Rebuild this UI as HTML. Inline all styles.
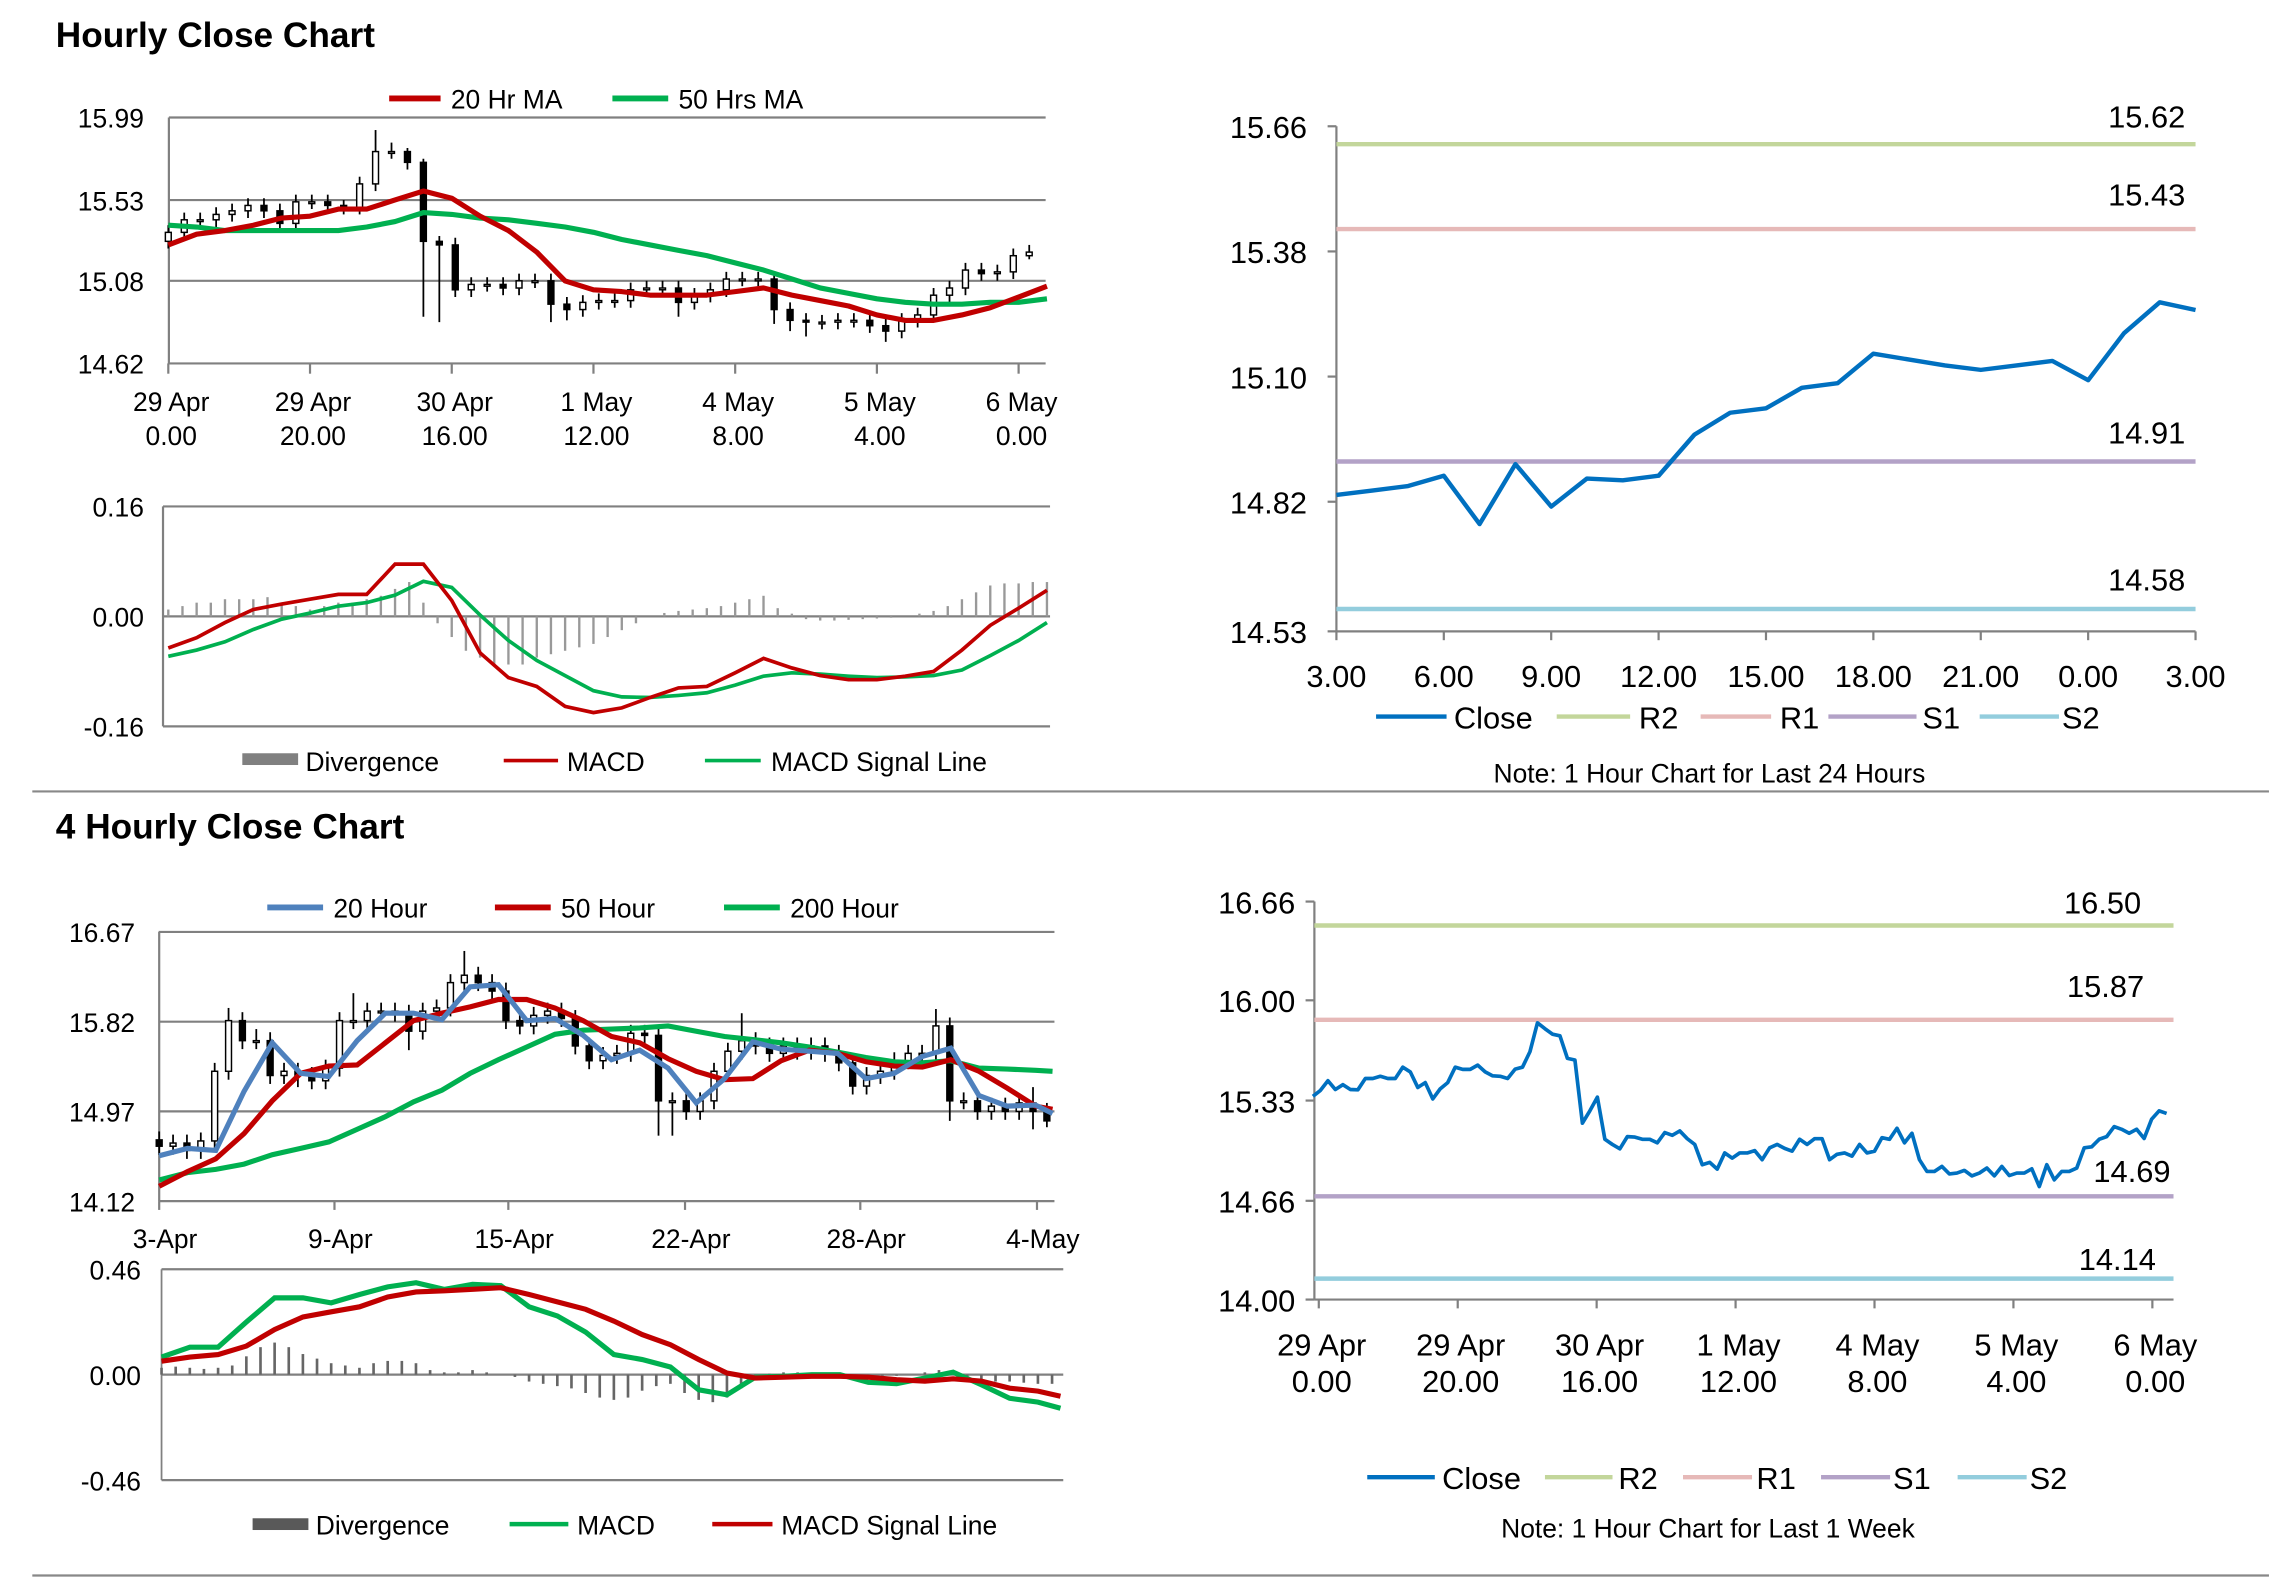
<!DOCTYPE html>
<html><head><meta charset="utf-8"><style>
html,body{margin:0;padding:0;background:#fff;}
svg{display:block;font-family:"Liberation Sans",Arial,sans-serif;}
</style></head><body>
<svg id="chart" xmlns="http://www.w3.org/2000/svg" width="2291" height="1577" viewBox="0 0 1560 1074" preserveAspectRatio="none">
<rect x="0" y="0" width="1560" height="1074" fill="#fff"/>
<text x="38" y="32" font-size="24" font-weight="bold">Hourly Close Chart</text>
<text x="38" y="571" font-size="24" font-weight="bold">4 Hourly Close Chart</text>
<line x1="22" y1="539" x2="1545" y2="539" stroke="#888" stroke-width="1.5"/>
<line x1="22" y1="1073" x2="1545" y2="1073" stroke="#888" stroke-width="1.5"/>

<g font-size="18">
<line x1="265" y1="67" x2="300" y2="67" stroke="#c00000" stroke-width="4"/><text x="307" y="74">20 Hr MA</text>
<line x1="417" y1="67" x2="455" y2="67" stroke="#00b050" stroke-width="4"/><text x="462" y="74">50 Hrs MA</text>
</g>
<g font-size="18">
<rect x="165" y="513" width="38" height="8" fill="#808080"/><text x="208" y="525">Divergence</text>
<line x1="343" y1="518" x2="380" y2="518" stroke="#c00000" stroke-width="2.5"/><text x="386" y="525">MACD</text>
<line x1="480" y1="518" x2="518" y2="518" stroke="#00b050" stroke-width="2.5"/><text x="525" y="525">MACD Signal Line</text>
</g>
<g font-size="21">
<line x1="937" y1="488" x2="985" y2="488" stroke="#0070c0" stroke-width="3"/><text x="990" y="496">Close</text>
<line x1="1060" y1="488" x2="1110" y2="488" stroke="#c3d69b" stroke-width="3"/><text x="1116" y="496">R2</text>
<line x1="1158" y1="488" x2="1206" y2="488" stroke="#e6b9b8" stroke-width="3"/><text x="1212" y="496">R1</text>
<line x1="1245" y1="488" x2="1305" y2="488" stroke="#b3a2c7" stroke-width="3"/><text x="1309" y="496">S1</text>
<line x1="1348" y1="488" x2="1402" y2="488" stroke="#93cddd" stroke-width="3"/><text x="1404" y="496">S2</text>
</g>
<text x="1164" y="533" font-size="18" text-anchor="middle">Note: 1 Hour Chart for Last 24 Hours</text>

<g font-size="18">
<line x1="182" y1="618" x2="220" y2="618" stroke="#4f81bd" stroke-width="4"/><text x="227" y="625">20 Hour</text>
<line x1="337" y1="618" x2="375" y2="618" stroke="#c00000" stroke-width="4"/><text x="382" y="625">50 Hour</text>
<line x1="493" y1="618" x2="531" y2="618" stroke="#00b050" stroke-width="4"/><text x="538" y="625">200 Hour</text>
</g>
<g font-size="18">
<rect x="172" y="1034" width="38" height="8" fill="#595959"/><text x="215" y="1045">Divergence</text>
<line x1="347" y1="1038" x2="387" y2="1038" stroke="#00b050" stroke-width="3"/><text x="393" y="1045">MACD</text>
<line x1="485" y1="1038" x2="526" y2="1038" stroke="#c00000" stroke-width="3"/><text x="532" y="1045">MACD Signal Line</text>
</g>
<g font-size="21">
<line x1="931" y1="1006" x2="977" y2="1006" stroke="#0070c0" stroke-width="3"/><text x="982" y="1014">Close</text>
<line x1="1052" y1="1006" x2="1098" y2="1006" stroke="#c3d69b" stroke-width="3"/><text x="1102" y="1014">R2</text>
<line x1="1146" y1="1006" x2="1193" y2="1006" stroke="#e6b9b8" stroke-width="3"/><text x="1196" y="1014">R1</text>
<line x1="1240" y1="1006" x2="1287" y2="1006" stroke="#b3a2c7" stroke-width="3"/><text x="1289" y="1014">S1</text>
<line x1="1333" y1="1006" x2="1380" y2="1006" stroke="#93cddd" stroke-width="3"/><text x="1382" y="1014">S2</text>
</g>
<text x="1163" y="1047" font-size="18" text-anchor="middle">Note: 1 Hour Chart for Last 1 Week</text>
</svg>
<script>
// ---------- Chart 1: hourly candles ----------
const c1Open=[15.30,15.35,15.42,15.42,15.45,15.47,15.50,15.47,15.40,15.52,15.52,15.50,15.49,15.62,15.80,15.80,15.74,15.30,15.28,15.03,15.06,15.06,15.04,15.08,15.08,14.95,14.92,14.96,14.97,14.97,15.03,15.04,15.04,14.96,15.00,15.03,15.09,15.09,15.09,14.92,14.86,14.85,14.85,14.86,14.86,14.83,14.80,14.86,14.89,15.00,15.04,15.14,15.12,15.13,15.22];
const c1Close=[15.35,15.42,15.42,15.45,15.47,15.50,15.47,15.40,15.52,15.52,15.50,15.49,15.62,15.80,15.80,15.74,15.30,15.28,15.03,15.06,15.06,15.04,15.08,15.08,14.95,14.92,14.96,14.97,14.97,15.03,15.04,15.04,14.96,15.00,15.03,15.09,15.09,15.09,14.92,14.86,14.85,14.85,14.86,14.86,14.83,14.80,14.86,14.89,15.00,15.04,15.14,15.12,15.13,15.22,15.24];
const c1High=[15.39,15.46,15.46,15.49,15.51,15.54,15.54,15.51,15.56,15.56,15.56,15.53,15.66,15.92,15.85,15.82,15.76,15.33,15.32,15.10,15.10,15.10,15.12,15.12,15.12,14.99,15.00,15.01,15.01,15.07,15.08,15.08,15.08,15.04,15.07,15.13,15.13,15.13,15.13,14.96,14.90,14.89,14.90,14.90,14.90,14.87,14.90,14.93,15.04,15.08,15.18,15.18,15.17,15.26,15.28];
const c1Low=[15.26,15.31,15.38,15.38,15.41,15.43,15.43,15.36,15.36,15.48,15.46,15.45,15.45,15.58,15.76,15.70,14.88,14.85,14.99,14.99,15.02,15.00,15.00,15.04,14.85,14.86,14.88,14.92,14.93,14.93,14.99,15.00,14.88,14.92,14.96,14.99,15.05,15.05,14.84,14.80,14.77,14.81,14.81,14.82,14.79,14.74,14.76,14.82,14.85,14.96,15.00,15.08,15.08,15.09,15.20];
const c1MAHours=[0,4,8,12,16,20,24,28,32,36,40,44,48,52,56,60,64,68,72,76,80,84,88,92,96,100,104,108,112,116,120,124];
const c1MA20=[15.28,15.34,15.36,15.39,15.43,15.44,15.48,15.48,15.53,15.58,15.54,15.44,15.36,15.24,15.08,15.03,15.02,15.00,15.00,15.00,15.02,15.04,15.00,14.97,14.94,14.89,14.86,14.86,14.89,14.93,14.99,15.05];
const c1MA50=[15.39,15.38,15.36,15.36,15.36,15.36,15.36,15.38,15.41,15.46,15.45,15.43,15.42,15.40,15.38,15.35,15.31,15.28,15.25,15.22,15.18,15.14,15.09,15.04,15.01,14.98,14.96,14.95,14.95,14.96,14.96,14.98];
const c1YTicks=[15.99,15.53,15.08,14.62];
const c1XTickHours=[0,20,40,60,80,100,120];
const c1XTop=['29 Apr','29 Apr','30 Apr','1 May','4 May','5 May','6 May'];
const c1XBot=['0.00','20.00','16.00','12.00','8.00','4.00','0.00'];
// ---------- Chart 2: hourly MACD ----------
const m1Hours=[0,4,8,12,16,20,24,28,32,36,40,44,48,52,56,60,64,68,72,76,80,84,88,92,96,100,104,108,112,116,120,124];
const m1Macd=[-0.046,-0.031,-0.009,0.010,0.018,0.025,0.032,0.032,0.076,0.076,0.023,-0.053,-0.089,-0.102,-0.131,-0.140,-0.133,-0.118,-0.104,-0.102,-0.082,-0.061,-0.075,-0.086,-0.092,-0.092,-0.087,-0.080,-0.049,-0.013,0.012,0.038];
const m1Signal=[-0.058,-0.049,-0.037,-0.019,-0.004,0.005,0.015,0.020,0.031,0.051,0.042,0.002,-0.035,-0.064,-0.086,-0.108,-0.117,-0.118,-0.115,-0.111,-0.100,-0.087,-0.082,-0.084,-0.087,-0.089,-0.088,-0.086,-0.078,-0.057,-0.035,-0.009];
const m1Div=[0.01,0.015,0.02,0.02,0.025,0.025,0.025,0.028,0.02,0.015,0.01,0.015,0.02,0.02,0.025,0.03,0.04,0.05,0.02,-0.01,-0.03,-0.05,-0.06,-0.07,-0.07,-0.07,-0.06,-0.055,-0.05,-0.045,-0.04,-0.03,-0.02,-0.01,0.0,0.005,0.008,0.01,0.012,0.015,0.02,0.025,0.03,0.012,0.004,-0.004,-0.006,-0.006,-0.005,-0.004,-0.003,-0.002,0.0,0.004,0.008,0.015,0.025,0.035,0.045,0.048,0.048,0.05,0.05];
const m1YTicks=[0.16,0.00,-0.16];
const m1YLabels=['0.16','0.00','-0.16'];
// ---------- Chart 3: right hourly 24h ----------
const r1Labels=['3.00','6.00','9.00','12.00','15.00','18.00','21.00','0.00','3.00'];
const r1YTicks=[15.66,15.38,15.10,14.82,14.53];
const r1Close=[14.835,14.845,14.855,14.878,14.770,14.904,14.809,14.872,14.868,14.878,14.970,15.019,15.029,15.075,15.085,15.151,15.138,15.125,15.115,15.125,15.135,15.092,15.197,15.266,15.249];
const r1Levels=[15.62,15.43,14.91,14.58];
const r1LevelNames=['R2','R1','S1','S2'];
// ---------- Chart 4: 4-hourly candles ----------
const c3Open=[14.70,14.64,14.67,14.60,14.69,15.35,15.83,15.64,15.64,15.31,15.35,15.31,15.26,15.38,15.83,15.83,15.92,15.92,15.90,15.73,15.92,15.95,16.19,16.26,16.19,16.11,15.83,15.78,15.88,15.92,15.85,15.59,15.45,15.50,15.52,15.71,15.69,15.07,15.07,14.97,15.07,15.35,15.54,15.64,15.59,15.52,15.59,15.54,15.59,15.52,15.43,15.21,15.31,15.35,15.45,15.52,15.52,15.78,15.07,15.07,14.97,15.02,14.97,15.05,14.97];
const c3Close=[14.64,14.67,14.60,14.69,15.35,15.83,15.64,15.64,15.31,15.35,15.31,15.26,15.38,15.83,15.83,15.92,15.92,15.90,15.73,15.92,15.95,16.19,16.26,16.19,16.11,15.83,15.78,15.88,15.92,15.85,15.59,15.45,15.50,15.52,15.71,15.69,15.07,15.07,14.97,15.07,15.35,15.54,15.64,15.59,15.52,15.59,15.54,15.59,15.52,15.43,15.21,15.31,15.35,15.45,15.52,15.52,15.78,15.07,15.07,14.97,15.02,14.97,15.05,14.97,14.88];
const c3High=[14.78,14.75,14.75,14.77,15.43,15.95,15.91,15.75,15.72,15.43,15.43,15.39,15.46,15.91,16.09,16.00,16.00,16.00,15.98,16.00,16.03,16.27,16.49,16.34,16.27,16.19,15.91,15.96,16.00,16.00,15.93,15.67,15.58,15.60,15.79,15.79,15.77,15.15,15.15,15.15,15.43,15.62,15.90,15.72,15.67,15.67,15.67,15.67,15.67,15.60,15.51,15.39,15.43,15.53,15.60,15.60,15.94,15.86,15.15,15.15,15.10,15.10,15.13,15.20,15.05];
const c3Low=[14.56,14.56,14.52,14.52,14.61,15.27,15.56,15.56,15.23,15.23,15.20,15.18,15.18,15.30,15.75,15.75,15.84,15.82,15.55,15.65,15.84,15.87,16.11,16.11,16.03,15.75,15.70,15.70,15.80,15.77,15.51,15.37,15.37,15.42,15.44,15.61,14.74,14.74,14.89,14.89,14.99,15.27,15.46,15.51,15.44,15.44,15.46,15.46,15.44,15.35,15.13,15.13,15.23,15.27,15.37,15.44,15.44,14.88,14.99,14.89,14.89,14.89,14.89,14.80,14.82];
const c3MADays=[0,1,2,3,4,5,6,7,8,9,10,11,12,13,14,15,16,17,18,19,20,21,22,23,24,25,26,27,28,29,30,31,31.6];
const c3MA20=[14.55,14.62,14.60,15.16,15.62,15.33,15.30,15.64,15.90,15.90,15.84,16.15,16.17,15.83,15.85,15.69,15.46,15.55,15.38,15.05,15.28,15.63,15.56,15.54,15.52,15.28,15.33,15.49,15.57,15.12,15.02,15.03,14.95];
const c3MA50=[14.26,14.40,14.52,14.76,15.07,15.33,15.40,15.41,15.62,15.83,15.90,15.96,16.03,16.03,15.95,15.83,15.68,15.62,15.47,15.35,15.27,15.28,15.45,15.55,15.52,15.44,15.40,15.39,15.46,15.35,15.19,15.02,14.99];
const c3MA200=[14.32,14.39,14.42,14.47,14.56,14.62,14.68,14.80,14.92,15.06,15.17,15.33,15.46,15.58,15.70,15.74,15.75,15.76,15.78,15.73,15.68,15.65,15.62,15.58,15.53,15.48,15.44,15.43,15.45,15.38,15.37,15.36,15.35];
const c3YTicks=[16.67,15.82,14.97,14.12];
const c3XTickDays=[0,6.2,12.35,18.6,24.8,31.05];
const c3XLabels=['3-Apr','9-Apr','15-Apr','22-Apr','28-Apr','4-May'];
// ---------- Chart 5: 4-hourly MACD ----------
const m2Days=[0,1,2,3,4,5,6,7,8,9,10,11,12,13,14,15,16,17,18,19,20,21,22,23,24,25,26,27,28,29,30,31,31.8];
const m2Macd=[0.077,0.120,0.120,0.230,0.335,0.335,0.313,0.350,0.383,0.401,0.372,0.394,0.388,0.296,0.256,0.186,0.088,0.066,0.033,-0.066,-0.088,-0.011,-0.007,0,0,-0.033,-0.039,-0.015,0.011,-0.044,-0.103,-0.120,-0.147];
const m2Signal=[0.059,0.077,0.088,0.125,0.197,0.252,0.274,0.296,0.339,0.361,0.366,0.372,0.379,0.350,0.318,0.285,0.234,0.175,0.131,0.066,0.007,-0.015,-0.011,-0.007,-0.007,-0.011,-0.022,-0.028,-0.018,-0.028,-0.059,-0.072,-0.094];
const m2Div=[0.03,0.035,0.03,0.025,0.03,0.04,0.08,0.12,0.14,0.12,0.09,0.07,0.05,0.04,0.03,0.05,0.06,0.06,0.05,0.02,0.01,0.01,0.02,0.01,0.0,-0.01,-0.03,-0.04,-0.05,-0.06,-0.08,-0.10,-0.11,-0.1,-0.07,-0.05,-0.04,-0.08,-0.11,-0.12,-0.10,-0.06,-0.02,0.005,0.01,0.01,0.005,0.0,-0.01,-0.01,-0.01,-0.005,-0.005,0.0,0.01,0.02,0.02,-0.01,-0.02,-0.03,-0.03,-0.035,-0.04,-0.04];
const m2YTicks=[0.46,0.00,-0.46];
const m2YLabels=['0.46','0.00','-0.46'];
// ---------- Chart 6: right hourly week ----------
const r2YTicks=[16.66,16.00,15.33,14.66,14.00];
const r2XTickHours=[0,20,40,60,80,100,120];
const r2XTop=['29 Apr','29 Apr','30 Apr','1 May','4 May','5 May','6 May'];
const r2XBot=['0.00','20.00','16.00','12.00','8.00','4.00','0.00'];
const r2Close=[15.359,15.398,15.463,15.404,15.436,15.404,15.402,15.477,15.477,15.492,15.477,15.477,15.553,15.522,15.418,15.450,15.341,15.409,15.450,15.553,15.538,15.538,15.567,15.522,15.495,15.492,15.477,15.540,15.553,15.657,15.849,15.810,15.774,15.763,15.612,15.601,15.179,15.262,15.353,15.071,15.037,15.007,15.089,15.086,15.071,15.071,15.048,15.116,15.098,15.127,15.075,15.037,14.901,14.917,14.872,14.980,14.946,14.980,14.980,14.996,14.935,15.014,15.037,15.010,14.992,15.071,15.037,15.075,15.075,14.935,14.971,14.980,14.958,15.037,14.980,14.992,15.082,15.071,15.145,15.048,15.111,14.935,14.856,14.856,14.890,14.840,14.845,14.863,14.827,14.845,14.879,14.827,14.890,14.829,14.845,14.845,14.874,14.755,14.901,14.800,14.856,14.856,14.879,15.014,15.021,15.071,15.089,15.156,15.138,15.111,15.138,15.077,15.206,15.262,15.244];
const r2Levels=[16.50,15.87,14.69,14.14];
const r2LevelNames=['R2','R1','S1','S2'];

const NS='http://www.w3.org/2000/svg';
const svg=document.getElementById('chart');
function mk(tag,attrs,parent){const e=document.createElementNS(NS,tag);for(const k in attrs)e.setAttribute(k,attrs[k]);(parent||svg).appendChild(e);return e;}
function pd(xs,ys){return xs.map((x,i)=>(i?'L':'M')+x.toFixed(1)+','+ys[i].toFixed(1)).join('');}
function txt(x,y,s,size,anchor,parent){const t=mk('text',{x:x,y:y,'font-size':size,'text-anchor':anchor||'start'},parent);t.textContent=s;return t;}
const levelColors=['#c3d69b','#e6b9b8','#b3a2c7','#93cddd'];

// ===== Chart 1 =====
(function(){
const X=h=>114.6+h*4.825, Y=v=>80+(15.99-v)*(167.5/1.37);
const g=mk('g',{});


c1YTicks.forEach(v=>{
  const l=mk('line',{x1:115,x2:712,y1:Y(v),y2:Y(v),stroke:'#808080','stroke-width':1.5},g);
  
  
  const t=txt(98,Y(v)+7,v.toFixed(2),18,'end',g);
  
  
});
mk('line',{x1:115,x2:115,y1:80,y2:248,stroke:'#808080','stroke-width':1.5},g);
c1XTickHours.forEach((h,i)=>{
  mk('line',{x1:X(h),x2:X(h),y1:Y(14.62),y2:Y(14.62)+7,stroke:'#808080','stroke-width':1.5},g);
  const t1=txt(X(h)+2,280,c1XTop[i],18,'middle',g);
  
  
  const t2=txt(X(h)+2,303,c1XBot[i],18,'middle',g);
  
  
});
c1Close.forEach((c,i)=>{
  const x=X(i*2.25), o=c1Open[i];
  const w=mk('line',{x1:x,x2:x,y1:Y(c1High[i]),y2:Y(c1Low[i]),stroke:'#000','stroke-width':1.2},g);
  
  
  const top=Y(Math.max(o,c)), bot=Y(Math.min(o,c));
  const b=mk('rect',{x:x-2,y:top,width:4,height:Math.max(bot-top,1.2),fill:c>=o?'#fff':'#000',stroke:'#000','stroke-width':1},g);
  
  
});
const xs=c1MAHours.map(X);
const p50=mk('path',{d:pd(xs,c1MA50.map(Y)),fill:'none',stroke:'#00b050','stroke-width':3.5,'stroke-linejoin':'round'},g);


const p20=mk('path',{d:pd(xs,c1MA20.map(Y)),fill:'none',stroke:'#c00000','stroke-width':3.5,'stroke-linejoin':'round'},g);


})();

// ===== Chart 2 (MACD hourly) =====
(function(){
const X=h=>114.6+h*4.825, Y=v=>419.8-v*(74.9/0.16);
const g=mk('g',{});


m1YTicks.forEach((v,i)=>{
  mk('line',{x1:111,x2:715,y1:Y(v),y2:Y(v),stroke:'#808080','stroke-width':1.5},g);
  const t=txt(98,Y(v)+7,m1YLabels[i],18,'end',g);
  
  
});
mk('line',{x1:111,x2:111,y1:Y(0.16),y2:Y(-0.16),stroke:'#808080','stroke-width':1.5},g);
m1Div.forEach((v,i)=>{
  const b=mk('line',{x1:X(i*2),x2:X(i*2),y1:Y(0),y2:Y(v),stroke:'#999','stroke-width':1.6},g);
  
  
});
const xs=m1Hours.map(X);
const ps=mk('path',{d:pd(xs,m1Signal.map(Y)),fill:'none',stroke:'#00b050','stroke-width':2.5},g);


const pm=mk('path',{d:pd(xs,m1Macd.map(Y)),fill:'none',stroke:'#c00000','stroke-width':2.5},g);


})();

// ===== Right chart 1 =====
(function(){
const X=h=>910+h*24.375, Y=v=>86+(15.66-v)*304.4;
const g=mk('g',{});


mk('line',{x1:910,x2:910,y1:86,y2:430,stroke:'#808080','stroke-width':1.5},g);
mk('line',{x1:910,x2:1495,y1:430,y2:430,stroke:'#808080','stroke-width':1.5},g);
r1YTicks.forEach(v=>{
  mk('line',{x1:904,x2:910,y1:Y(v),y2:Y(v),stroke:'#808080','stroke-width':1.5},g);
  const t=txt(890,Y(v)+8,v.toFixed(2),21,'end',g);
  
  
});
r1Labels.forEach((s,i)=>{
  mk('line',{x1:X(i*3),x2:X(i*3),y1:430,y2:436,stroke:'#808080','stroke-width':1.5},g);
  const t=txt(X(i*3),468,s,21,'middle',g);
  
  
});
const lblY=[87,140,302,402];
r1Levels.forEach((v,i)=>{
  const l=mk('line',{x1:910,x2:1495,y1:Y(v),y2:Y(v),stroke:levelColors[i],'stroke-width':3},g);
  
  
  const t=txt(1488,lblY[i],v.toFixed(2),21,'end',g);
  
  
});
const p=mk('path',{d:pd(r1Close.map((v,i)=>X(i)),r1Close.map(Y)),fill:'none',stroke:'#0070c0','stroke-width':3,'stroke-linejoin':'round'},g);


})();

// ===== Chart 3 (4-hourly) =====
(function(){
const X=d=>108.4+d*19.25, Y=v=>634.7+(16.67-v)*(183.3/2.55);
const g=mk('g',{});


c3YTicks.forEach(v=>{
  mk('line',{x1:108,x2:718,y1:Y(v),y2:Y(v),stroke:'#808080','stroke-width':1.5},g);
  const t=txt(92,Y(v)+7,v.toFixed(2),18,'end',g);
  
  
});
mk('line',{x1:108.4,x2:108.4,y1:Y(16.67),y2:Y(14.12),stroke:'#808080','stroke-width':1.5},g);
c3XTickDays.forEach((d,i)=>{
  mk('line',{x1:X(d),x2:X(d),y1:Y(14.12),y2:Y(14.12)+6,stroke:'#808080','stroke-width':1.5},g);
  const t=txt(X(d)+4,850,c3XLabels[i],18,'middle',g);
  
  
});
c3Close.forEach((c,i)=>{
  const x=X(i*31.4/64), o=c3Open[i];
  const w=mk('line',{x1:x,x2:x,y1:Y(c3High[i]),y2:Y(c3Low[i]),stroke:'#000','stroke-width':1.2},g);
  
  
  const top=Y(Math.max(o,c)), bot=Y(Math.min(o,c));
  const b=mk('rect',{x:x-2,y:top,width:4,height:Math.max(bot-top,1.2),fill:c>=o?'#fff':'#000',stroke:'#000','stroke-width':1},g);
  
  
});
const xs=c3MADays.map(X);
const a=mk('path',{d:pd(xs,c3MA200.map(Y)),fill:'none',stroke:'#00b050','stroke-width':3.5},g);


const b=mk('path',{d:pd(xs,c3MA50.map(Y)),fill:'none',stroke:'#c00000','stroke-width':3.5},g);


const c=mk('path',{d:pd(xs,c3MA20.map(Y)),fill:'none',stroke:'#4f81bd','stroke-width':3.5},g);


})();

// ===== Chart 4 (MACD 4-hourly) =====
(function(){
const X=d=>110+d*19.25, Y=v=>936.2-v*(71.8/0.46);
const g=mk('g',{});


m2YTicks.forEach((v,i)=>{
  mk('line',{x1:110,x2:724,y1:Y(v),y2:Y(v),stroke:'#808080','stroke-width':1.5},g);
  const t=txt(96,Y(v)+7,m2YLabels[i],18,'end',g);
  
  
});
mk('line',{x1:110,x2:110,y1:Y(0.46),y2:Y(-0.46),stroke:'#808080','stroke-width':1.2},g);
m2Div.forEach((v,i)=>{
  const b=mk('line',{x1:X(i*0.5),x2:X(i*0.5),y1:Y(0),y2:Y(v),stroke:'#666','stroke-width':1.8},g);
  
  
});
const xs=m2Days.map(X);
const pm=mk('path',{d:pd(xs,m2Macd.map(Y)),fill:'none',stroke:'#00b050','stroke-width':3.5},g);


const ps=mk('path',{d:pd(xs,m2Signal.map(Y)),fill:'none',stroke:'#c00000','stroke-width':3.5},g);


})();

// ===== Right chart 2 =====
(function(){
const X=h=>898+h*4.73, Y=v=>614+(16.66-v)*101.9;
const g=mk('g',{});


mk('line',{x1:895,x2:895,y1:Y(16.66),y2:Y(14.00),stroke:'#808080','stroke-width':1.5},g);
mk('line',{x1:895,x2:1480,y1:Y(14.00),y2:Y(14.00),stroke:'#808080','stroke-width':1.5},g);
r2YTicks.forEach(v=>{
  mk('line',{x1:889,x2:895,y1:Y(v),y2:Y(v),stroke:'#808080','stroke-width':1.5},g);
  const t=txt(882,Y(v)+8,v.toFixed(2),21,'end',g);
  
  
});
r2XTickHours.forEach((h,i)=>{
  mk('line',{x1:X(h),x2:X(h),y1:Y(14),y2:Y(14)+6,stroke:'#808080','stroke-width':1.5},g);
  const t1=txt(X(h)+2,923,r2XTop[i],21,'middle',g);
  
  
  const t2=txt(X(h)+2,948,r2XBot[i],21,'middle',g);
  
  
});
const lblX=[1458,1460,1478,1468], lblY=[622,679,805,865];
r2Levels.forEach((v,i)=>{
  const l=mk('line',{x1:895,x2:1480,y1:Y(v),y2:Y(v),stroke:levelColors[i],'stroke-width':3},g);
  
  
  const t=txt(lblX[i],lblY[i],v.toFixed(2),21,'end',g);
  
  
});
const p=mk('path',{d:pd(r2Close.map((v,i)=>X(-0.85+i*1.078)),r2Close.map(Y)),fill:'none',stroke:'#0070c0','stroke-width':2.5,'stroke-linejoin':'round'},g);


})();
</script>
</body></html>
